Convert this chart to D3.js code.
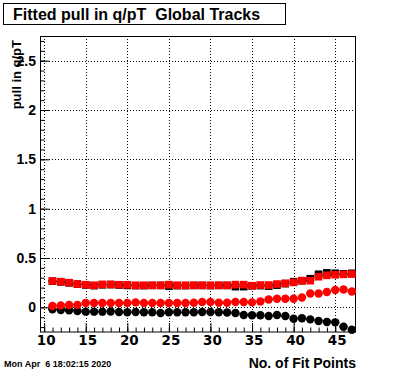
<!DOCTYPE html>
<html>
<head>
<meta charset="utf-8">
<script src="https://cdn.jsdelivr.net/npm/d3@7"></script>
<style>
  body { margin: 0; background: #fff; }
  svg { display: block; }
  text { font-family: "Liberation Sans", Arial, sans-serif; font-weight: bold; }
</style>
</head>
<body>
<script>
// fit points (bin centres)
const fitPoints = [11, 12, 13, 14, 15, 16, 17, 18, 19, 20, 21, 22, 23, 24, 25, 26, 27, 28, 29,
  30, 31, 32, 33, 34, 35, 36, 37, 38, 39, 40, 41, 42, 43, 44, 45, 46, 47]

const blackSquares = [0.265, 0.258, 0.248, 0.235, 0.227, 0.22, 0.228, 0.23, 0.226, 0.222, 0.22, 0.22,
  0.222, 0.222, 0.215, 0.22, 0.22, 0.222, 0.222, 0.22, 0.222, 0.222, 0.21, 0.21, 0.218, 0.22, 0.215,
  0.225, 0.24, 0.26, 0.27, 0.29, 0.335, 0.35, 0.345, 0.34, 0.345]
const redSquares = [0.267, 0.26, 0.25, 0.236, 0.229, 0.223, 0.233, 0.233, 0.229, 0.229, 0.223, 0.223,
  0.223, 0.223, 0.23, 0.223, 0.223, 0.223, 0.223, 0.223, 0.223, 0.223, 0.23, 0.23, 0.219, 0.226, 0.226,
  0.236, 0.243, 0.253, 0.27, 0.27, 0.31, 0.324, 0.33, 0.334, 0.337]
const redCircles = [0.013, 0.02, 0.023, 0.025, 0.044, 0.044, 0.044, 0.044, 0.044, 0.044, 0.05, 0.044,
  0.044, 0.044, 0.044, 0.044, 0.044, 0.047, 0.054, 0.054, 0.047, 0.047, 0.054, 0.054, 0.05, 0.06, 0.08,
  0.087, 0.087, 0.087, 0.1, 0.14, 0.14, 0.155, 0.175, 0.18, 0.16]
const blackCircles = [-0.02, -0.027, -0.03, -0.037, -0.044, -0.044, -0.044, -0.042, -0.047, -0.05, -0.047,
  -0.05, -0.05, -0.058, -0.05, -0.05, -0.05, -0.05, -0.047, -0.047, -0.05, -0.053, -0.058, -0.078, -0.08,
  -0.08, -0.088, -0.078, -0.088, -0.115, -0.11, -0.122, -0.139, -0.149, -0.152, -0.196, -0.227]

const xMajor = [10, 15, 20, 25, 30, 35, 40, 45]
const yMajor = [0, 0.5, 1, 1.5, 2, 2.5]
const yLabels = ["0", "0.5", "1", "1.5", "2", "2.5"]

const W = 396, H = 372
const svg = d3.select("body").append("svg")
  .attr("width", W)
  .attr("height", H)

const x = d3.scaleLinear().domain([9.5, 47.5]).range([40, 356])
const y = d3.scaleLinear().domain([-0.25, 2.75]).range([332, 36])

// grid
const grid = svg.append("g")
  .attr("stroke", "#000")
  .attr("stroke-dasharray", "1,2")
grid.selectAll(".gx").data(xMajor).join("line")
  .attr("x1", d => Math.round(x(d)) + 0.5).attr("x2", d => Math.round(x(d)) + 0.5)
  .attr("y1", 36).attr("y2", 332)
grid.selectAll(".gy").data(yMajor).join("line")
  .attr("y1", d => Math.round(y(d)) + 0.5).attr("y2", d => Math.round(y(d)) + 0.5)
  .attr("x1", 40).attr("x2", 356)

// axes, ticks inward like ROOT
const xAxis = d3.axisBottom(x).ticks(38).tickSize(-4.5).tickFormat("")
svg.append("g").attr("transform", "translate(0,332)").call(xAxis)
svg.append("g").attr("transform", "translate(0,332)")
  .call(d3.axisBottom(x).tickValues(xMajor).tickSize(-9).tickFormat(""))
const yAxis = d3.axisLeft(y).ticks(30).tickSize(-4.5).tickFormat("")
svg.append("g").attr("transform", "translate(40,0)").call(yAxis)
svg.append("g").attr("transform", "translate(40,0)")
  .call(d3.axisLeft(y).tickValues(yMajor).tickSize(-9.5).tickFormat(""))
svg.selectAll(".domain").remove()
svg.selectAll(".tick line").attr("stroke", "#000")

// tick labels
svg.append("g").selectAll("text").data(xMajor).join("text")
  .attr("x", d => x(d) + 2)
  .attr("y", 345)
  .attr("text-anchor", "middle")
  .style("font-family", "'DejaVu Sans', sans-serif")
  .attr("font-size", 13.5)
  .text(d => d)
svg.append("g").selectAll("text").data(yMajor).join("text")
  .attr("x", 36)
  .attr("y", d => y(d) + 5)
  .attr("text-anchor", "end")
  .attr("font-size", 14)
  .text((d, i) => yLabels[i])

// frame
svg.append("rect")
  .attr("x", 40.5).attr("y", 36.5)
  .attr("width", 315).attr("height", 295.5)
  .attr("fill", "none").attr("stroke", "#000")

// series
function drawSeries(vals, color, shape) {
  const g = svg.append("g")
  g.selectAll("line").data(vals).join("line")
    .attr("x1", (d, i) => x(fitPoints[i] - 0.5))
    .attr("x2", (d, i) => x(fitPoints[i] + 0.5))
    .attr("y1", d => y(d)).attr("y2", d => y(d))
    .attr("stroke", "#000")
  if (shape == "square") {
    g.selectAll("rect").data(vals).join("rect")
      .attr("x", (d, i) => x(fitPoints[i]) - 3.8)
      .attr("y", d => y(d) - 3.8)
      .attr("width", 7.6).attr("height", 7.6)
      .attr("fill", color)
  } else {
    g.selectAll("circle").data(vals).join("circle")
      .attr("cx", (d, i) => x(fitPoints[i]))
      .attr("cy", d => y(d))
      .attr("r", 4.2)
      .attr("fill", color)
  }
}
drawSeries(blackCircles, "#000", "circle")
drawSeries(blackSquares, "#000", "square")
drawSeries(redCircles, "#ff0000", "circle")
drawSeries(redSquares, "#ff0000", "square")

// titles
svg.append("rect")
  .attr("x", 3.5).attr("y", 3.5)
  .attr("width", 282).attr("height", 21)
  .attr("fill", "#fff").attr("stroke", "#000")
svg.append("text")
  .attr("x", 13).attr("y", 19.5)
  .attr("font-size", 16)
  .style("white-space", "pre")
  .text("Fitted pull in q/pT  Global Tracks")

svg.append("text")
  .attr("transform", "translate(21,40) rotate(-90)")
  .attr("text-anchor", "end")
  .attr("font-size", 13)
  .text("pull in q/pT")

svg.append("text")
  .attr("x", 356).attr("y", 368)
  .attr("text-anchor", "end")
  .attr("font-size", 14)
  .text("No. of Fit Points")

svg.append("text")
  .attr("x", 4).attr("y", 367)
  .attr("font-size", 9)
  .style("white-space", "pre")
  .text("Mon Apr  6 18:02:15 2020")
</script>
</body>
</html>
